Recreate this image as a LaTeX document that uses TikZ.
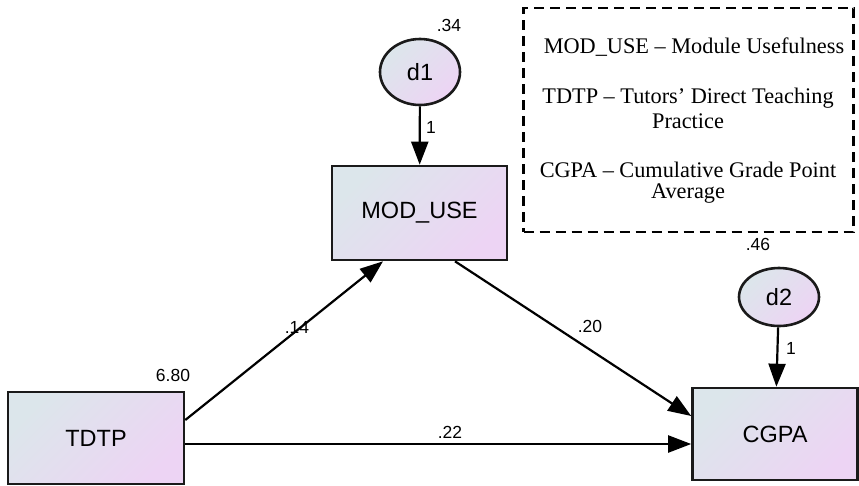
\documentclass[tikz,border=0pt]{standalone}
\usepackage{fontspec}
\setmainfont{Liberation Serif}
\newfontfamily\arialf{Liberation Sans}
\usetikzlibrary{arrows.meta,shapes.geometric}
\definecolor{fillA}{HTML}{DCE6EB}
\definecolor{fillB}{HTML}{EDD4F4}
\definecolor{edgec}{HTML}{1A1A1A}
\tikzset{
  x=1pt, y=-1pt,
  var/.style={draw=edgec, line width=2.6pt, left color=fillA, right color=fillB, shading angle=45,
    font=\arialf\fontsize{23.5}{28}\selectfont, inner sep=0pt},
  obsbox/.style={var, rectangle},
  errell/.style={var, ellipse},
  arr/.style={draw=black, line width=2.2pt, -{Triangle[length=23pt,width=17pt]}},
  lbl/.style={font=\arialf\fontsize{17.5}{21}\selectfont, inner sep=0pt},
  leg/.style={font=\fontsize{22.3}{26}\selectfont, inner sep=0pt},
}
\begin{document}
\begin{tikzpicture}
\useasboundingbox (0,0) rectangle (859,485);
% legend
\node[draw=black, dashed, dash pattern=on 10pt off 6pt, line width=2.4pt, minimum width=330pt, minimum height=224pt, inner sep=0pt] (legend) at (688.5,120) {};
\node[leg] (l1) at (694,47) {MOD\_USE -- Module Usefulness};
\node[leg] (l2) at (688,98) {TDTP -- Tutors’ Direct Teaching};
\node[leg] (l3) at (688,121) {Practice};
\node[leg] (l4) at (688,170) {CGPA -- Cumulative Grade Point};
\node[leg] (l5) at (688,194) {Average};
% variables
\node[obsbox, minimum width=175pt, minimum height=94pt] (mod) at (419.5,213) {MOD\_USE};
\node[obsbox, minimum width=176pt, minimum height=92pt] (tdtp) at (96,438) {TDTP};
\node[obsbox, minimum width=165pt, minimum height=92pt] (cgpa) at (775,434) {CGPA};
\node[errell, minimum width=80pt, minimum height=66pt] (d1) at (420,72) {d1};
\node[errell, minimum width=80pt, minimum height=58pt] (d2) at (779,297) {d2};
% arrows
\draw[arr] (d1) -- (mod);
\draw[arr] (d2) -- (cgpa);
\draw[arr] ([yshift=18pt]tdtp.east) -- ([xshift=-36.5pt]mod.south);
\draw[arr] ([xshift=35.5pt]mod.south) -- ([yshift=18pt]cgpa.west);
\draw[arr] ([yshift=-6pt]tdtp.east) -- ([yshift=-10pt]cgpa.west);
% labels
\node[lbl] (v34) at (449,25) {.34};
\node[lbl] (v46) at (758,244) {.46};
\node[lbl] (v680) at (173,375) {6.80};
\node[lbl] (w1a) at (431,127) {1};
\node[lbl] (w1b) at (791,348) {1};
\node[lbl] (p14) at (297,327) {.14};
\node[lbl] (p20) at (590,326) {.20};
\node[lbl] (p22) at (450,432) {.22};
\end{tikzpicture}
\end{document}
